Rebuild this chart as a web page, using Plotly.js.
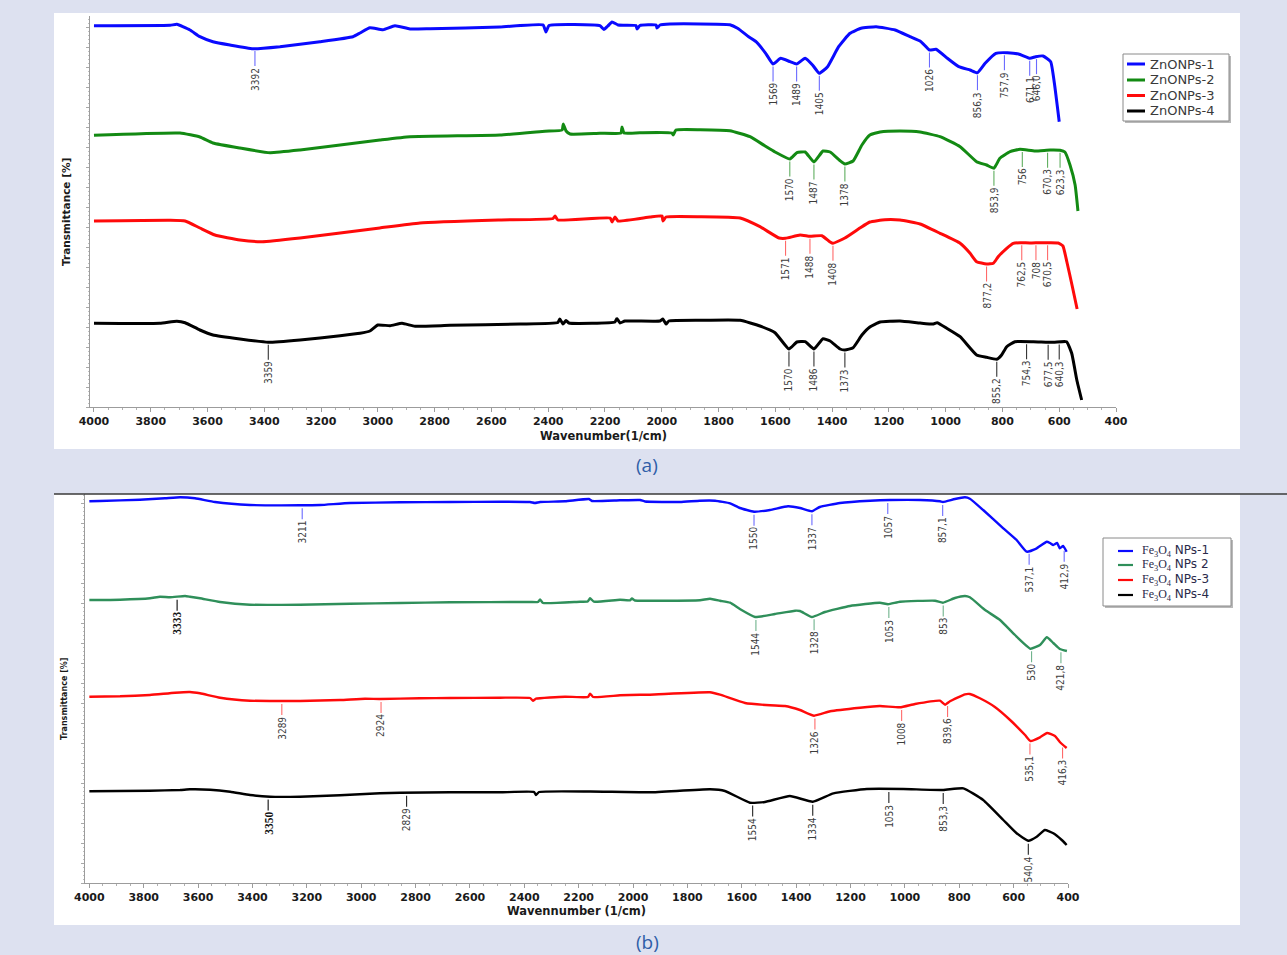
<!DOCTYPE html>
<html><head><meta charset="utf-8">
<script src="https://cdn.plot.ly/plotly-3.0.1.min.js"></script>
<style>html,body{margin:0;padding:0;background:#dde1f0;} #chart{width:1287px;height:955px;}</style>
</head><body><div id="chart"></div>
<script>
// ---------- Panel (a): ZnO NPs ----------
const namesA = ['ZnONPs-1','ZnONPs-2','ZnONPs-3','ZnONPs-4'];
const a1x = [4000,3732,3708,3662,3627,3581,3521,3440,3345,3204,3088,3063,3028,2982,2940,2887,2816,2570,2418,2408,2397,2218,2204,2190,2175,2154,2091,2087,2077,2020,2017,2006,1971,1760,1733,1694,1668,1634,1608,1581,1548,1525,1495,1469,1445,1416,1377,1337,1298,1245,1178,1126,1087,1057,1034,994,954,914,888,861,823,782,743,703,683,657,630,617,600];
const a1y = [381.3,381.7,382.7,377,370.3,365.3,362,358.3,360.3,365.3,370.3,374,379.3,377.3,381.3,378,378.3,380,382,375,381.5,381.3,377.5,381,385,382,381.5,378,381.5,382,379,382,383,382.3,378.7,370.3,365.3,353.7,343,348.7,345.3,343,348.7,342,333.7,340.3,360.3,373.7,378.7,380.3,377,370.3,365.3,357,357.7,348.7,340.3,337,334.3,343.7,353.7,354.3,353,348.7,350.3,351,345.3,323.7,285.3];
const a2x = [4000,3697,3627,3581,3486,3380,3274,3133,2993,2887,2570,2411,2351,2347,2337,2323,2218,2144,2140,2133,2077,1964,1960,1950,1865,1760,1689,1636,1601,1549,1524,1495,1464,1432,1407,1372,1355,1326,1295,1267,1231,1161,1090,1020,949,891,856,830,809,773,738,685,632,597,580,562,544,534];
const a2y = [271.7,274,270,264,259,254.3,257,262,267,270.3,272,275.7,277,283,276,273,273.7,274,280,274,274.3,274,272,277,277.3,276.3,270.3,261,255,248,254.3,255,245,256,255,246.3,243,246,262,272,275,276,275,270.3,260.3,245.3,242,238.7,248.7,255.3,257.7,256,257,256.7,255,242,222,196];
const a3x = [4000,3732,3679,3627,3574,3486,3408,3274,3133,2993,2852,2570,2383,2376,2366,2182,2175,2165,2154,2041,1999,1996,1985,1865,1724,1654,1587,1564,1513,1478,1436,1407,1397,1355,1302,1267,1214,1161,1090,1020,949,914,891,856,832,815,785,762,738,703,668,632,604,587,573,555,537];
const a3y = [186,186.7,186,179,172,167,165.3,169,174,179,184,187,188.5,191,187,189,185,190,186,190,191,186,190,190.3,189,180.3,169,168.7,172,170.7,171.3,165,163.7,169,179,185,187.3,187,183,173.7,163.7,153.7,145.3,143,143.7,150.3,158.7,163.7,164.3,164,164.3,164.3,164,161,145,122,98];
const a4x = [4000,3768,3708,3679,3627,3581,3486,3387,3274,3133,3063,3028,3000,2957,2915,2869,2746,2499,2366,2359,2348,2337,2327,2165,2158,2147,2130,2006,1996,1985,1975,1865,1724,1654,1601,1552,1524,1495,1464,1432,1407,1372,1355,1326,1295,1267,1231,1161,1090,1043,1030,996,949,891,856,820,803,785,756,691,620,574,556,538,521];
const a4y = [83.7,83.7,85.7,84.3,77,72,68,64.7,67,71.3,73.7,76,82,81.3,83.7,80.7,81.7,83,84.5,88,83,86.5,84,85,88.5,84,86,86,88,83,86,86.7,86.7,81,74.3,58,65,65.3,58,68.3,66,58,57,59.3,72,80,85,86,84,83,84.3,78.7,70.3,52,49.7,47.7,52,60.3,65.3,65.3,64.7,65.3,53.7,27,7];
// peak labels (a): drawn position and printed text
const pa1x = [3433,1608,1525,1445,1057,888,793,704,680];
const pa1t = ['3392','1569','1489','1405','1026','856,3','757,9','671,1','646,0'];
const pa2x = [1549,1464,1355,830,730,641,597];
const pa2t = ['1570','1487','1378','853,9','756','670,3','623,3'];
const pa3x = [1564,1478,1397,856,732,682,641];
const pa3t = ['1571','1488','1408','877,2','762,5','708','670,5'];
const pa4x = [3386,1552,1464,1355,820,715,639,600];
const pa4t = ['3359','1570','1486','1373','855,2','754,3','677,5','640,3'];

// ---------- Panel (b): Fe3O4 NPs ----------
const namesB = ['<span style="font-family:Liberation Serif">Fe<sub>3</sub>O<sub>4</sub></span> NPs-1','<span style="font-family:Liberation Serif">Fe<sub>3</sub>O<sub>4</sub></span> NPs 2','<span style="font-family:Liberation Serif">Fe<sub>3</sub>O<sub>4</sub></span> NPs-3','<span style="font-family:Liberation Serif">Fe<sub>3</sub>O<sub>4</sub></span> NPs-4'];
const b1x = [4000,3961,3814,3722,3666,3611,3538,3409,3225,3151,3041,2857,2673,2489,2379,2361,2342,2250,2162,2151,2048,1974,1956,1827,1754,1698,1643,1607,1555,1496,1430,1386,1342,1313,1239,1128,1055,944,871,860,816,779,761,712,638,589,552,515,478,466,454,440,430,418,405];
const b1y = [381.7,382,383.3,384.7,385.7,384.7,381,378,377.7,378,380,380.7,381,381.3,381,380,381,381.7,384,382,382.7,383,381.5,381,382.3,382.3,379.7,375,371.3,373,376.7,375,371.7,376,380,382.3,383,383,381.7,381,384,385.7,384.3,373,354.7,343,331.3,334.7,341.3,340,338,340,334.7,337,331.3];
const b2x = [4000,3887,3777,3740,3703,3648,3630,3593,3519,3409,3225,3041,2857,2673,2379,2350,2342,2331,2195,2167,2158,2144,2048,2011,2004,1993,1938,1754,1717,1680,1643,1607,1551,1478,1404,1386,1342,1294,1202,1092,1062,1018,889,860,816,779,761,705,650,595,538,503,478,454,430,404];
const b2y = [283,283.3,284.7,286.3,285.7,287,286.3,284.7,281,278.3,278.3,279.3,280,280.7,281,281,283.5,280,281.3,281.5,284.7,281.3,283.3,282.7,284.5,282.5,282.3,282.7,284.3,282.3,280.3,274,266,269,272.3,272,266,271,277,280.3,278.7,281.3,282.3,280.3,285,287,285.7,273,263,248,234.3,238,245.7,240,234,232];
const b3x = [4000,3887,3777,3685,3630,3593,3519,3409,3299,3225,3078,2986,2931,2784,2673,2489,2379,2368,2357,2250,2166,2158,2147,2048,1974,1938,1717,1680,1588,1496,1441,1386,1334,1275,1165,1092,1018,963,871,852,834,779,761,724,669,613,558,538,503,477,448,430,405];
const b3y = [186.3,186.7,188,190.3,191,189.7,185.3,182.3,182,182,183,184.3,184,184.7,185,185.3,185,182.3,184.3,186.3,186,189.3,186,187.7,188.3,188.3,190.7,188.3,180,177.7,177,173,167.3,171.7,175.3,177,175.7,179,182.3,178.3,181.7,188.7,189,184.7,176,163,148,142,145.7,150,147,141,135];
const b4x = [4000,3777,3666,3630,3556,3482,3409,3335,3225,3078,2931,2857,2673,2489,2364,2357,2346,2158,1938,1717,1662,1570,1515,1423,1339,1263,1140,1006,859,785,712,638,589,546,515,485,454,423,405];
const b4y = [91.7,92.3,93,93.7,93.3,91.3,88,86.3,86.3,87.7,89.7,90.3,90.7,90.7,91,88,91,91.5,90.7,93.7,92,80.3,81,87,81.3,89.7,94,94,93,94.7,83,63,49.7,42.3,46.3,53,49.7,43,38];
const pb1x = [3217,1555,1342,1063,861,543,414];
const pb1t = ['3211','1550','1337','1057','857,1','537,1','412,9'];
const pb2x = [3677,1548,1334,1059,859,534,426];
const pb2t = ['3333','1544','1328','1053','853','530','421,8'];
const pb3x = [3292,2927,1331,1012,843,540,420];
const pb3t = ['3289','2924','1326','1008','839,6','535,1','416,3'];
const pb4x = [3342,2833,1560,1339,1059,859,546];
const pb4t = ['3350','2829','1554','1334','1053','853,3','540,4'];

const xTicks = [4000,3800,3600,3400,3200,3000,2800,2600,2400,2200,2000,1800,1600,1400,1200,1000,800,600,400];

// ---------- styles ----------
const W = 1287, H = 955;
const colA = ['#0a0aff','#138a13','#ff0a0a','#000000'];
const colB = ['#0a0aff','#2f8f5a','#ff0a0a','#000000'];
const lblA = ['#6a6aff','#5fae5f','#ff6a6a','#333333'];
const lblB = ['#6a6aff','#6fb38c','#ff6a6a','#222222'];
const serifBold = ['3333','3350'];
const px = v => v / W, py = v => 1 - v / H;
const DJ = 'DejaVu Sans, Verdana, sans-serif';

function interp(xs, ys, x) {
  for (let i = 0; i < xs.length - 1; i++) {
    const x0 = xs[i], x1 = xs[i + 1];
    if (x <= x0 && x >= x1) { const t = (x0 === x1) ? 0 : (x0 - x) / (x0 - x1); return ys[i] + t * (ys[i + 1] - ys[i]); }
  }
  return ys[ys.length - 1];
}

const traces = [];
const seriesA = [[a1x,a1y],[a2x,a2y],[a3x,a3y],[a4x,a4y]];
const seriesB = [[b1x,b1y],[b2x,b2y],[b3x,b3y],[b4x,b4y]];
seriesA.forEach((s, i) => traces.push({x: s[0], y: s[1], xaxis: 'x', yaxis: 'y', type: 'scatter', mode: 'lines', name: namesA[i], line: {color: colA[i], width: 3, shape: 'spline', smoothing: 0.4}, showlegend: false, hoverinfo: 'skip'}));
seriesB.forEach((s, i) => traces.push({x: s[0], y: s[1], xaxis: 'x2', yaxis: 'y2', type: 'scatter', mode: 'lines', name: namesB[i], line: {color: colB[i], width: 2.4, shape: 'spline', smoothing: 0.4}, showlegend: false, hoverinfo: 'skip'}));

const shapes = [
  {type: 'rect', xref: 'paper', yref: 'paper', x0: px(54), x1: px(1240), y0: py(449), y1: py(13), fillcolor: '#ffffff', line: {width: 0}, layer: 'below'},
  {type: 'rect', xref: 'paper', yref: 'paper', x0: px(54), x1: px(1240), y0: py(925), y1: py(494), fillcolor: '#ffffff', line: {width: 0}, layer: 'below'},
  {type: 'line', xref: 'paper', yref: 'paper', x0: px(54), x1: px(1287), y0: py(494), y1: py(494), line: {color: '#3a3a3a', width: 1.5}}
];
const annotations = [];

function addPeaks(xs, ys, pxs, pts, xr, yr, lineCol, gap, len) {
  pxs.forEach((p, k) => {
    const yc = interp(xs, ys, p);
    const sb = serifBold.includes(pts[k]);
    shapes.push({type: 'line', xref: xr, yref: yr, x0: p, x1: p, y0: yc - gap, y1: yc - gap - len, line: {color: sb ? '#555' : lineCol, width: sb ? 1.6 : 1.1}});
    annotations.push({xref: xr, yref: yr, x: p, y: yc - gap - len - 0.5, text: pts[k], textangle: -90, showarrow: false, xanchor: 'center', yanchor: 'top', borderpad: 0,
      font: sb ? {family: 'Liberation Serif, serif', size: 11.5, color: '#111', weight: 'bold'} : {family: 'DejaVu Sans Condensed, Liberation Sans Narrow, sans-serif', size: 10, color: '#3c3c3c'}});
  });
}
const peaksA = [[pa1x,pa1t],[pa2x,pa2t],[pa3x,pa3t],[pa4x,pa4t]];
const peaksB = [[pb1x,pb1t],[pb2x,pb2t],[pb3x,pb3t],[pb4x,pb4t]];
peaksA.forEach((p, i) => addPeaks(seriesA[i][0], seriesA[i][1], p[0], p[1], 'x', 'y', lblA[i], 2.5, 15));
peaksB.forEach((p, i) => addPeaks(seriesB[i][0], seriesB[i][1], p[0], p[1], 'x2', 'y2', lblB[i], 3, 11));

// custom legends
function addLegend(names, cols, box, rows, lineX, textX, lw, fontSpec) {
  shapes.push({type: 'rect', xref: 'paper', yref: 'paper', x0: px(box[0] + 2), x1: px(box[1] + 2), y0: py(box[3] + 2), y1: py(box[2] + 2), fillcolor: '#b9b9b9', line: {width: 0}});
  shapes.push({type: 'rect', xref: 'paper', yref: 'paper', x0: px(box[0]), x1: px(box[1]), y0: py(box[3]), y1: py(box[2]), fillcolor: '#ffffff', line: {color: '#8a8a8a', width: 1}});
  names.forEach((n, i) => {
    shapes.push({type: 'line', xref: 'paper', yref: 'paper', x0: px(lineX[0]), x1: px(lineX[1]), y0: py(rows[i]), y1: py(rows[i]), line: {color: cols[i], width: lw}});
    annotations.push({xref: 'paper', yref: 'paper', x: px(textX), y: py(rows[i]), text: n, showarrow: false, xanchor: 'left', yanchor: 'middle', font: fontSpec});
  });
}
addLegend(namesA, colA, [1123, 1229, 54, 121], [64, 80, 95.5, 111], [1127, 1145], 1148, 3, {family: DJ, size: 13, color: '#3a3a3a'});
addLegend(namesB, colB, [1103, 1231, 538, 606], [551, 565, 580, 595], [1118, 1133], 1140, 2.2, {family: DJ, size: 12, color: '#2a2a4a'});

// axis titles and captions
const mid = {showarrow: false, xref: 'paper', yref: 'paper', xanchor: 'center', yanchor: 'middle'};
annotations.push(Object.assign({x: px(603), y: py(436), text: 'Wavenumber(1/cm)', font: {family: DJ, size: 11.5, color: '#1a1a1a', weight: 'bold'}}, mid));
annotations.push(Object.assign({x: px(66), y: py(212), text: 'Transmittance [%]', textangle: -90, font: {family: DJ, size: 10.5, color: '#1a1a1a', weight: 'bold'}}, mid));
annotations.push(Object.assign({x: px(576), y: py(911), text: 'Wavennumber (1/cm)', font: {family: DJ, size: 11.5, color: '#1a1a1a', weight: 'bold'}}, mid));
annotations.push(Object.assign({x: px(64), y: py(699), text: 'Transmittance [%]', textangle: -90, font: {family: DJ, size: 8, color: '#1a1a1a', weight: 'bold'}}, mid));
annotations.push(Object.assign({x: px(647), y: py(465), text: '(a)', font: {family: 'Open Sans, Liberation Sans, sans-serif', size: 19, color: '#2f5ea8'}}, mid));
annotations.push(Object.assign({x: px(647), y: py(942), text: '(b)', font: {family: 'Open Sans, Liberation Sans, sans-serif', size: 19, color: '#2f5ea8'}}, mid));

const tickFont = {family: DJ, size: 11, color: '#1a1a1a', weight: 'bold'};
function xAxis(dom, rng, anchor) {
  return {domain: dom, range: rng, anchor: anchor, showgrid: false, zeroline: false, showline: true, linecolor: '#9c9c9c', linewidth: 1,
    ticks: 'outside', ticklen: 4, tickcolor: '#9c9c9c', tickvals: xTicks, ticktext: xTicks.map(String), tickfont: tickFont,
    minor: {dtick: 50, ticks: 'outside', ticklen: 2, tickcolor: '#b0b0b0'}, fixedrange: true};
}
function yAxis(dom, rng, anchor) {
  return {domain: dom, range: rng, anchor: anchor, showgrid: false, zeroline: false, showline: true, linecolor: '#9c9c9c', linewidth: 1,
    ticks: 'outside', ticklen: 3, tickcolor: '#a8a8a8', dtick: 20, tick0: 0, showticklabels: false,
    minor: {dtick: 4, ticks: 'outside', ticklen: 1.5, tickcolor: '#c0c0c0'}, fixedrange: true};
}

const layout = {
  width: W, height: H, margin: {l: 0, r: 0, t: 0, b: 0},
  paper_bgcolor: '#dde1f0', plot_bgcolor: 'rgba(0,0,0,0)', showlegend: false,
  xaxis: xAxis([px(90), px(1116)], [4014, 400], 'y'),
  yaxis: yAxis([py(407), py(16)], [0, 391], 'x'),
  xaxis2: xAxis([px(85), px(1068)], [4016, 400], 'y2'),
  yaxis2: yAxis([py(883), py(494)], [0, 389], 'x2'),
  shapes: shapes, annotations: annotations
};
Plotly.newPlot('chart', traces, layout, {displayModeBar: false, staticPlot: true});
</script></body></html>
